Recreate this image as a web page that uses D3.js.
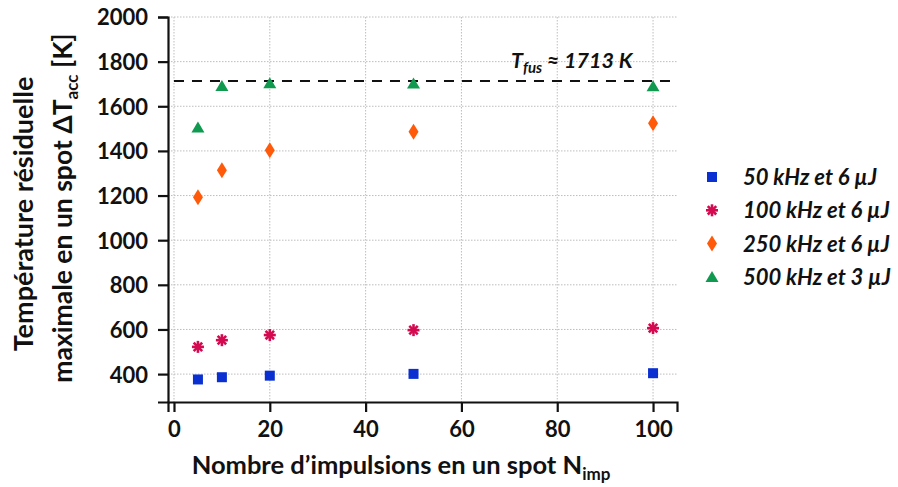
<!DOCTYPE html>
<html><head><meta charset="utf-8">
<script src="https://cdn.jsdelivr.net/npm/d3@7"></script>
<style>
body{margin:0;background:#fff;}
text{font-family:Lato,"Open Sans",sans-serif;font-weight:bold;fill:#111;}
</style></head>
<body><svg id="c" width="898" height="487"></svg>
<script>
const nImp = [5, 10, 20, 50, 100];
const s50k = [376, 386, 393, 401, 404];
const s100k = [522, 552, 575, 597, 606];
const s250k = [1192, 1313, 1403, 1486, 1524];
const s500k = [1505, 1691, 1703, 1702, 1690];
const seriesNames = ["50 kHz et 6 µJ", "100 kHz et 6 µJ", "250 kHz et 6 µJ", "500 kHz et 3 µJ"];
const seriesColors = ["#0a30d2", "#d40a50", "#ff5a0a", "#0f9a50"];
const xTicks = [0, 20, 40, 60, 80, 100];
const yTicks = [400, 600, 800, 1000, 1200, 1400, 1600, 1800, 2000];
const tFus = 1713;

const svg = d3.select("#c");
const x = d3.scaleLinear().domain([-1.25, 105]).range([168, 677]);
const y = d3.scaleLinear().domain([275, 2000]).range([402, 17]);

// grid
const grid = svg.append("g");
grid.selectAll(".gx").data(xTicks).join("line")
  .attr("x1", d => x(d)).attr("x2", d => x(d)).attr("y1", y(2000)).attr("y2", y(275))
  .attr("stroke", "#bdbdbd").attr("stroke-width", 1).attr("stroke-dasharray", "1.5,1.5");
grid.selectAll(".gy").data(yTicks).join("line")
  .attr("x1", x(-1.25)).attr("x2", x(105)).attr("y1", d => y(d)).attr("y2", d => y(d))
  .attr("stroke", "#bdbdbd").attr("stroke-width", 1).attr("stroke-dasharray", "1.5,1.5");

// axes
const xAxis = svg.append("g").attr("transform", `translate(0,${y(275)})`)
  .call(d3.axisBottom(x).tickValues(xTicks).tickFormat(d3.format("d")).tickSize(10).tickPadding(9));
const yAxis = svg.append("g").attr("transform", `translate(${x(-1.25)},0)`)
  .call(d3.axisLeft(y).tickValues(yTicks).tickFormat(d3.format("d")).tickSize(10).tickPadding(10));
[xAxis, yAxis].forEach(a => {
  a.select(".domain").attr("stroke", "#111").attr("stroke-width", 2.2);
  a.selectAll(".tick line").attr("stroke", "#111").attr("stroke-width", 2.2);
  a.selectAll(".tick text").style("font-size", "22px").style("font-family", "Lato").style("font-weight", "bold").attr("fill", "#111");
});
yAxis.selectAll(".tick text").attr("dy", "0.36em");

// dashed melting line
svg.append("line").attr("x1", x(0)).attr("x2", x(105)).attr("y1", y(tFus)).attr("y2", y(tFus))
  .attr("stroke", "#111").attr("stroke-width", 2).attr("stroke-dasharray", "10,8");
const tl = svg.append("text").attr("x", 511).attr("y", 68).style("font-size", "21.5px").style("font-style", "italic");
tl.append("tspan").text("T");
tl.append("tspan").attr("dy", 5).style("font-size", "15px").text("fus");
tl.append("tspan").attr("dy", -5).text(" ≈ 1713 K");

// markers
const allSeries = [s50k, s100k, s250k, s500k];
function drawMarker(g, i, cx, cy) {
  const c = seriesColors[i];
  if (i === 0) {
    g.append("rect").attr("x", cx - 5).attr("y", cy - 5).attr("width", 10).attr("height", 10).attr("fill", c);
  } else if (i === 1) {
    const r = 6;
    [0, 45, 90, 135].forEach(a => {
      const rad = a * Math.PI / 180;
      g.append("line").attr("x1", cx - r * Math.cos(rad)).attr("y1", cy - r * Math.sin(rad))
        .attr("x2", cx + r * Math.cos(rad)).attr("y2", cy + r * Math.sin(rad))
        .attr("stroke", c).attr("stroke-width", 2.6);
    });
  } else if (i === 2) {
    g.append("path").attr("d", `M${cx},${cy - 8}L${cx + 5},${cy}L${cx},${cy + 8}L${cx - 5},${cy}Z`).attr("fill", c);
  } else {
    g.append("path").attr("d", `M${cx},${cy - 6}L${cx + 6.5},${cy + 5}L${cx - 6.5},${cy + 5}Z`).attr("fill", c);
  }
}
const mg = svg.append("g");
allSeries.forEach((s, i) => {
  s.forEach((v, j) => drawMarker(mg, i, x(nImp[j]), y(v)));
});

// legend
const lg = svg.append("g");
seriesNames.forEach((name, i) => {
  const cy = 177 + i * 33.3;
  drawMarker(lg, i, 712, cy);
  lg.append("text").attr("x", 743).attr("y", cy).attr("dy", "0.36em")
    .style("font-size", "22px").style("font-style", "italic").text(name);
});

// axis titles
const xt = svg.append("text").attr("x", 401).attr("y", 474).attr("text-anchor", "middle").style("font-size", "25.5px");
xt.append("tspan").text("Nombre d’impulsions en un spot N");
xt.append("tspan").attr("dy", 6).style("font-size", "17px").text("imp");

const yt = svg.append("g").attr("transform", "translate(0,0) rotate(-90)");
yt.append("text").attr("x", -214).attr("y", 33).attr("text-anchor", "middle").style("font-size", "27px").text("Température résiduelle");
const yt2 = yt.append("text").attr("x", -208).attr("y", 72).attr("text-anchor", "middle").style("font-size", "26.5px");
yt2.append("tspan").text("maximale en un spot ΔT");
yt2.append("tspan").attr("dy", 6).style("font-size", "17px").text("acc");
yt2.append("tspan").attr("dy", -6).text(" [K]");
</script></body></html>
